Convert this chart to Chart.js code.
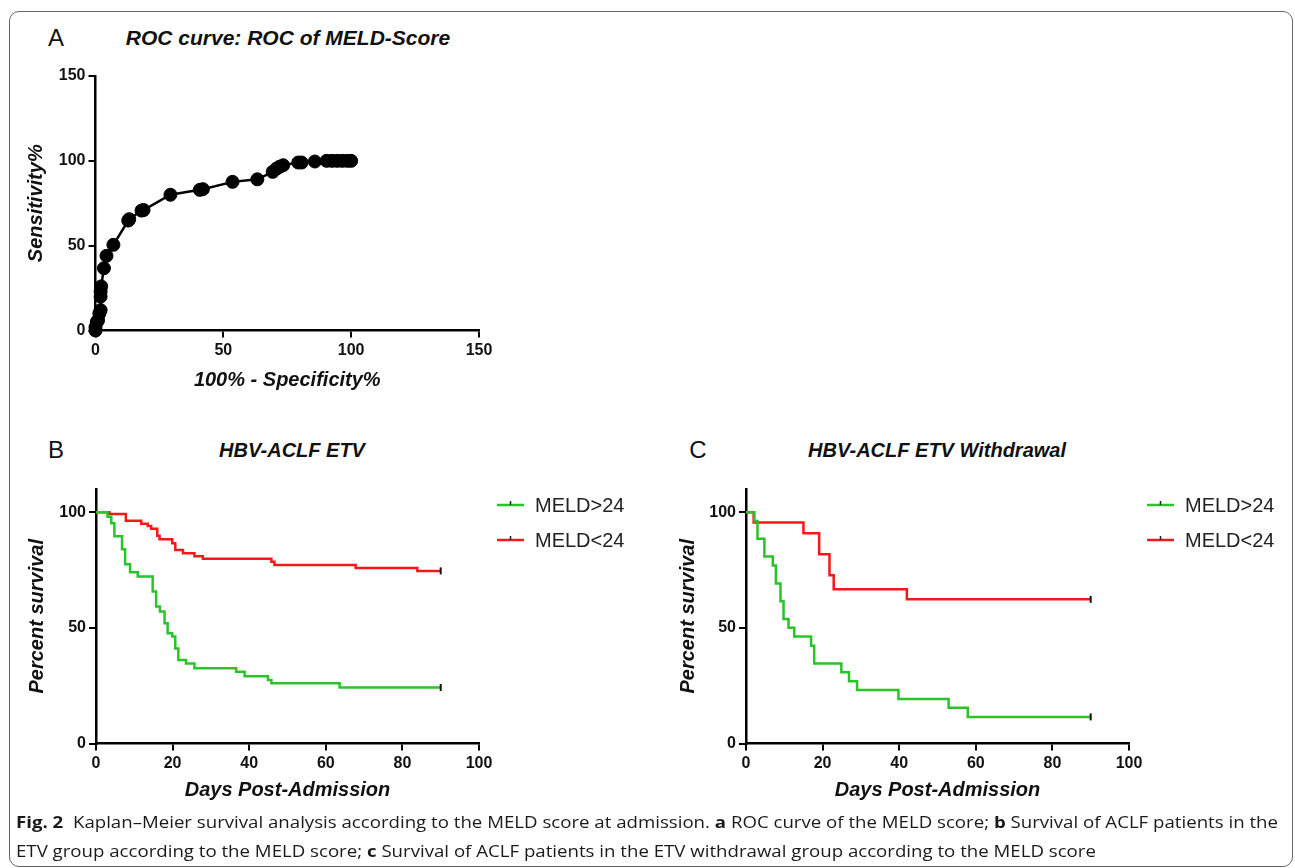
<!DOCTYPE html>
<html><head><meta charset="utf-8">
<script src="https://cdn.jsdelivr.net/npm/chart.js@4.4.1/dist/chart.umd.min.js"></script>
<style>
html,body{margin:0;padding:0;background:#fff;}
body{width:1295px;height:868px;position:relative;overflow:hidden;font-family:"Liberation Sans",Arial,sans-serif;}
.frame{position:absolute;left:9px;top:11px;width:1284px;height:856px;border:1.5px solid #666;border-radius:10px;box-sizing:border-box;}
canvas{position:absolute;}
.c{position:absolute;transform:translate(-50%,-50%);white-space:nowrap;color:#111;line-height:1;}
.letter{font:24px "Liberation Sans";}
.ttl{font:italic bold 20px "Liberation Sans";}
.cap{position:absolute;left:16px;font-family:"Open Sans";font-size:16px;white-space:nowrap;color:#1a1a1a;line-height:29px;transform-origin:0 0;}
</style></head>
<body>
<div class="frame"></div>
<div class="c letter" style="left:56px;top:38px">A</div>
<div class="c ttl" style="left:288px;top:38px;font-size:21px">ROC curve: ROC of MELD-Score</div>
<div class="c letter" style="left:56px;top:450px">B</div>
<div class="c ttl" style="left:292px;top:450px">HBV-ACLF ETV</div>
<div class="c letter" style="left:698px;top:450px">C</div>
<div class="c ttl" style="left:937px;top:450px">HBV-ACLF ETV Withdrawal</div>
<canvas id="cA" width="500" height="340" style="left:0;top:60px"></canvas>
<canvas id="cB" width="650" height="340" style="left:0;top:470px"></canvas>
<canvas id="cC" width="645" height="340" style="left:650px;top:470px"></canvas>
<div class="cap" id="cap" style="top:808px"><b>Fig. 2</b>&nbsp; Kaplan–Meier survival analysis according to the MELD score at admission. <b>a</b> ROC curve of the MELD score; <b>b</b> Survival of ACLF patients in the<br>ETV group according to the MELD score; <b>c</b> Survival of ACLF patients in the ETV withdrawal group according to the MELD score</div>
<script>
// ---- data ----
const rocFpr  = [0,0,0.5,1,1.5,2,2,2,2.2,3.3,4.3,7,12.8,13.2,18,18.8,29.3,40.8,42,53.6,63.3,69.3,70.8,72,73.4,79.3,80.6,85.8,90.4,92.5,94.5,96.5,98.5,100];
const rocSens = [0,2,5,6,10,12,20,23,26,36.7,44,50.5,64.8,65.6,70.7,71,80,82.9,83.3,87.6,89.1,93.5,95.4,96.5,97.4,99,99,99.6,100,100,100,100,100,100];
const rocTicks = [0,50,100,150];

const seriesLabels = ['MELD>24','MELD<24'];
const etvHighDays = [0,3,4,4.8,6.8,7.6,8.9,10.9,14.8,15.7,16.7,17.9,18.7,19.9,20.7,21.5,23.5,25.7,36.6,38.8,44.9,45.8,63.6,90];
const etvHighSurv = [100,98,95.2,89.6,84,77.5,74,72.2,65.7,59.2,57,52,47.6,46.2,41.1,36.1,34.6,32.5,31,29.1,27.4,26,24.2,24.2];
const etvLowDays  = [0,3.5,7.8,11.8,13.5,14.4,16,16.6,19.9,20.7,22.7,25.7,27.9,45.8,46.6,67.8,83.9,90];
const etvLowSurv  = [100,99.2,96.3,95,94,92.8,89.8,88.3,86.6,83.6,82.2,80.9,79.8,78.6,77.2,75.9,74.6,74.6];
const wdHighDays  = [0,2.2,3.0,4.8,7.0,7.8,9.0,9.8,11.1,12.6,17,17.8,24.9,26.9,29,39.8,52.9,57.9,90];
const wdHighSurv  = [100,96.2,88.5,80.8,76.9,69.2,61.5,53.8,50,46.2,42.3,34.6,30.8,26.9,23.1,19.2,15.4,11.5,11.5];
const wdLowDays   = [0,2.0,15,19.1,21.8,22.9,42.0,90];
const wdLowSurv   = [100,95.5,90.9,81.8,72.7,66.7,62.3,62.3];
const survTicks = [0,50,100];
const dayTicks  = [0,20,40,60,80,100];
const colHigh = 'rgb(40,196,40)';
const colLow  = 'rgb(244,24,24)';

// ---- helpers ----
function mkAxis(kind, min, max, ticks, title, size, titlePad){
  return {
    type:'linear', min, max, position: kind==='x' ? 'bottom' : 'left',
    afterBuildTicks: s => { s.ticks = ticks.map(v => ({value:v})); },
    afterFit: s => { if (kind==='x') s.height = size; else s.width = size; },
    grid:{display:true, drawOnChartArea:false, drawTicks:true, tickLength:7, tickWidth:2, tickColor:'#000', color:'#000', lineWidth:2},
    border:{display:true, color:'#000', width:2.5},
    ticks:{color:'#111', font:{family:'Liberation Sans', weight:'bold', size:16}, padding:3, maxRotation:0, autoSkip:false},
    title:{display:true, text:title, color:'#111',
      font:{family:'Liberation Sans', weight:'bold', style:'italic', size:20},
      padding: kind==='x' ? {top:0,bottom:titlePad} : {top:titlePad,bottom:0}}
  };
}

const kmLegend = {
  id:'kmLegend',
  afterDatasetsDraw(chart){
    const {ctx, chartArea} = chart;
    const x0 = chartArea.right + 18;
    chart.data.datasets.forEach((ds,i) => {
      const y = chartArea.top + 16 + i*35;
      ctx.save();
      ctx.strokeStyle = ds.borderColor; ctx.lineWidth = 2.5;
      ctx.beginPath(); ctx.moveTo(x0,y); ctx.lineTo(x0+27,y); ctx.stroke();
      ctx.strokeStyle = '#222'; ctx.lineWidth = 1.5;
      ctx.beginPath(); ctx.moveTo(x0+13.5,y); ctx.lineTo(x0+13.5,y-4); ctx.stroke();
      ctx.fillStyle = '#222'; ctx.font = '20px "Liberation Sans"'; ctx.textBaseline = 'middle';
      ctx.fillText(ds.label, x0+38, y+1);
      ctx.restore();
    });
  }
};

function kmDataset(days, surv, label, color){
  const n = days.length;
  return {
    label, data: days.map((x,i) => ({x, y:surv[i]})),
    borderColor:color, backgroundColor:color, borderWidth:2.5, stepped:true, fill:false,
    pointRadius: days.map((_,i) => i===n-1 ? 3.5 : 0),
    pointHoverRadius:0, pointStyle:'line', rotation:90,
    pointBorderColor:'#111', pointBorderWidth:2, clip:false
  };
}

function kmChart(id, hiD, hiS, loD, loS, right, yPad){
  return new Chart(document.getElementById(id), {
    type:'line',
    data:{datasets:[kmDataset(hiD,hiS,seriesLabels[0],colHigh), kmDataset(loD,loS,seriesLabels[1],colLow)]},
    options:{
      responsive:false, animation:false, events:[],
      layout:{padding:{left:0, top:19, right:right, bottom:0}},
      plugins:{legend:{display:false}, tooltip:{enabled:false}},
      scales:{
        x: mkAxis('x', 0, 100, dayTicks, 'Days Post-Admission', 66.5, 8),
        y: mkAxis('y', 0, 110, survTicks, 'Percent survival', 96, yPad)
      }
    },
    plugins:[kmLegend]
  });
}

// ---- chart A ----
new Chart(document.getElementById('cA'), {
  type:'line',
  data:{datasets:[{
    label:'ROC', data: rocFpr.map((x,i) => ({x, y:rocSens[i]})),
    borderColor:'#000', backgroundColor:'#000', borderWidth:2.5, tension:0,
    pointRadius:6.5, pointBackgroundColor:'#000', pointBorderColor:'#000', pointBorderWidth:1, clip:false
  }]},
  options:{
    responsive:false, animation:false, events:[],
    layout:{padding:{left:0, top:16, right:21, bottom:0}},
    plugins:{legend:{display:false}, tooltip:{enabled:false}},
    scales:{
      x: mkAxis('x', 0, 150, rocTicks, '100% - Specificity%', 69.5, 8),
      y: mkAxis('y', 0, 150, rocTicks, 'Sensitivity%', 95.5, 24)
    }
  }
});

// ---- charts B, C ----
kmChart('cB', etvHighDays, etvHighSurv, etvLowDays, etvLowSurv, 171, 25);
kmChart('cC', wdHighDays, wdHighSurv, wdLowDays, wdLowSurv, 166, 26);

// caption width fit
const cap = document.getElementById('cap');
const first = cap.getBoundingClientRect().width;
cap.style.transform = 'scaleX(' + (1262/first) + ')';
</script>
</body></html>
